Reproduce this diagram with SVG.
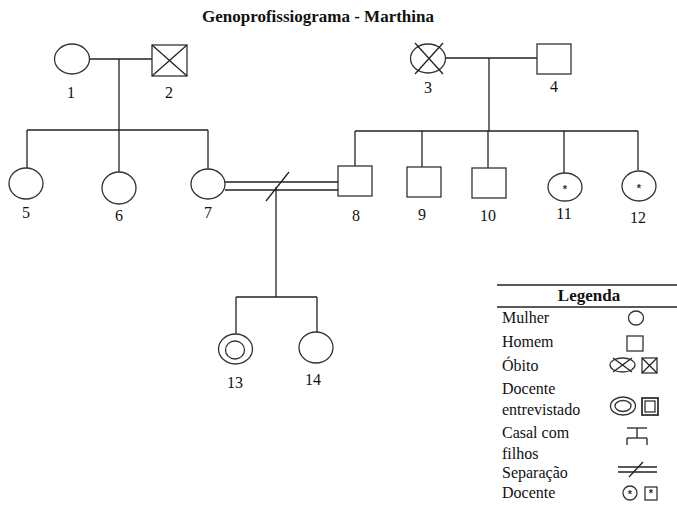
<svg xmlns="http://www.w3.org/2000/svg" width="677" height="506" viewBox="0 0 677 506">
<style>
.bg{fill:#fff}
.ln{stroke:#222;stroke-width:1.3;fill:none}
.sh{stroke:#333;stroke-width:1.3;fill:#fff}
.t{font-family:"Liberation Serif","Times New Roman",serif;font-size:16px;fill:#111}
.n{text-anchor:middle}
.title{font-family:"Liberation Serif","Times New Roman",serif;font-size:17px;font-weight:bold;fill:#111;text-anchor:middle}
.ast{font-family:"Liberation Sans",Arial,sans-serif;font-size:11px;font-weight:bold;fill:#333;text-anchor:middle}
.lg{font-family:"Liberation Serif","Times New Roman",serif;font-size:16px;fill:#111}
</style>
<rect class="bg" x="0" y="0" width="677" height="506"/>
<text class="title" x="318" y="22">Genoprofissiograma - Marthina</text>

<g id="connectors">
  <!-- 1-2 couple -->
  <line class="ln" x1="89" y1="59" x2="152" y2="59"/>
  <line class="ln" x1="119" y1="59" x2="119" y2="130"/>
  <line class="ln" x1="27" y1="130" x2="208" y2="130"/>
  <line class="ln" x1="27" y1="130" x2="27" y2="168"/>
  <line class="ln" x1="119" y1="130" x2="119" y2="172"/>
  <line class="ln" x1="208" y1="130" x2="208" y2="169"/>
  <!-- 3-4 couple -->
  <line class="ln" x1="446" y1="58" x2="537" y2="58"/>
  <line class="ln" x1="489" y1="58" x2="489" y2="131"/>
  <line class="ln" x1="355" y1="131" x2="638" y2="131"/>
  <line class="ln" x1="355" y1="131" x2="355" y2="166"/>
  <line class="ln" x1="422" y1="131" x2="422" y2="167"/>
  <line class="ln" x1="488" y1="131" x2="488" y2="168"/>
  <line class="ln" x1="564" y1="131" x2="564" y2="173"/>
  <line class="ln" x1="638" y1="131" x2="638" y2="170"/>
  <!-- 7-8 separated couple -->
  <line class="ln" x1="225" y1="182" x2="338" y2="182"/>
  <line class="ln" x1="225" y1="190" x2="338" y2="190"/>
  <line class="ln" x1="266" y1="201" x2="289" y2="172"/>
  <line class="ln" x1="276" y1="187" x2="276" y2="297"/>
  <line class="ln" x1="236" y1="297" x2="317" y2="297"/>
  <line class="ln" x1="236" y1="297" x2="236" y2="334"/>
  <line class="ln" x1="317" y1="297" x2="317" y2="332"/>
</g>

<g id="n1"><ellipse class="sh" cx="72" cy="59" rx="17.5" ry="15"/><text class="t n" x="71" y="98">1</text></g>
<g id="n2"><rect class="sh" x="152" y="45" width="35" height="31"/><line class="ln" x1="152" y1="45" x2="187" y2="76"/><line class="ln" x1="187" y1="45" x2="152" y2="76"/><text class="t n" x="169" y="98">2</text></g>
<g id="n3"><ellipse class="sh" cx="428" cy="58.5" rx="17.5" ry="14.5"/><line class="ln" x1="415" y1="43" x2="443" y2="74"/><line class="ln" x1="443" y1="43" x2="415" y2="74"/><text class="t n" x="428" y="93">3</text></g>
<g id="n4"><rect class="sh" x="537" y="44" width="34" height="30"/><text class="t n" x="554" y="92">4</text></g>

<g id="n5"><ellipse class="sh" cx="26" cy="183.5" rx="17" ry="15.5"/><text class="t n" x="26" y="218">5</text></g>
<g id="n6"><ellipse class="sh" cx="119" cy="188" rx="17" ry="16"/><text class="t n" x="119" y="221">6</text></g>
<g id="n7"><ellipse class="sh" cx="208" cy="184" rx="17" ry="15"/><text class="t n" x="208" y="218">7</text></g>
<g id="n8"><rect class="sh" x="338" y="166" width="34" height="30"/><text class="t n" x="356" y="221">8</text></g>
<g id="n9"><rect class="sh" x="407" y="167" width="34" height="30"/><text class="t n" x="422" y="220">9</text></g>
<g id="n10"><rect class="sh" x="472" y="168" width="34" height="30"/><text class="t n" x="488" y="221">10</text></g>
<g id="n11"><ellipse class="sh" cx="565" cy="187" rx="17" ry="14"/><text class="ast" x="565" y="193">*</text><text class="t n" x="564" y="219">11</text></g>
<g id="n12"><ellipse class="sh" cx="639" cy="186" rx="17" ry="15"/><text class="ast" x="639" y="192">*</text><text class="t n" x="638" y="223">12</text></g>
<g id="n13"><ellipse class="sh" cx="235.5" cy="349" rx="17" ry="15"/><ellipse class="sh" cx="235" cy="350" rx="9.5" ry="9"/><text class="t n" x="235" y="388">13</text></g>
<g id="n14"><ellipse class="sh" cx="316" cy="347.5" rx="17" ry="15.5"/><text class="t n" x="313" y="385">14</text></g>

<g id="legend">
  <line class="ln" x1="497" y1="285" x2="677" y2="285"/>
  <text class="title" x="589" y="301">Legenda</text>
  <line class="ln" x1="497" y1="307" x2="677" y2="307"/>
  <text class="lg" x="502" y="323">Mulher</text>
  <ellipse class="sh" cx="636" cy="318" rx="7.5" ry="7"/>
  <text class="lg" x="502" y="347">Homem</text>
  <rect class="sh" x="627" y="336" width="16" height="15"/>
  <text class="lg" x="502" y="371">Óbito</text>
  <ellipse class="sh" cx="622.5" cy="365" rx="12.5" ry="7"/>
  <line class="ln" x1="613" y1="358" x2="632" y2="372"/>
  <line class="ln" x1="632" y1="358" x2="613" y2="372"/>
  <rect class="sh" x="642" y="358" width="15" height="15"/>
  <line class="ln" x1="642" y1="358" x2="657" y2="373"/>
  <line class="ln" x1="657" y1="358" x2="642" y2="373"/>
  <text class="lg" x="502" y="394">Docente</text>
  <text class="lg" x="502" y="415">entrevistado</text>
  <ellipse class="sh" cx="623" cy="406" rx="12.5" ry="9"/>
  <ellipse class="sh" cx="623" cy="406" rx="8" ry="5.5"/>
  <rect class="sh" x="642" y="398" width="16" height="17" style="stroke-width:1.8"/>
  <rect class="sh" x="645" y="401" width="10" height="11"/>
  <text class="lg" x="502" y="438">Casal com</text>
  <text class="lg" x="502" y="459">filhos</text>
  <line class="ln" x1="627" y1="428" x2="647" y2="428"/>
  <line class="ln" x1="637" y1="428" x2="637" y2="438"/>
  <line class="ln" x1="627" y1="438" x2="647" y2="438"/>
  <line class="ln" x1="627" y1="438" x2="627" y2="445"/>
  <line class="ln" x1="647" y1="438" x2="647" y2="445"/>
  <text class="lg" x="502" y="478">Separação</text>
  <line class="ln" x1="618" y1="467" x2="657" y2="467"/>
  <line class="ln" x1="618" y1="472" x2="657" y2="472"/>
  <line class="ln" x1="629" y1="477" x2="643" y2="462"/>
  <text class="lg" x="502" y="498">Docente</text>
  <circle class="sh" cx="630" cy="493" r="7"/>
  <text class="ast" x="630" y="498">*</text>
  <rect class="sh" x="645" y="487" width="12" height="13"/>
  <text class="ast" x="651" y="497">*</text>
</g>
</svg>
